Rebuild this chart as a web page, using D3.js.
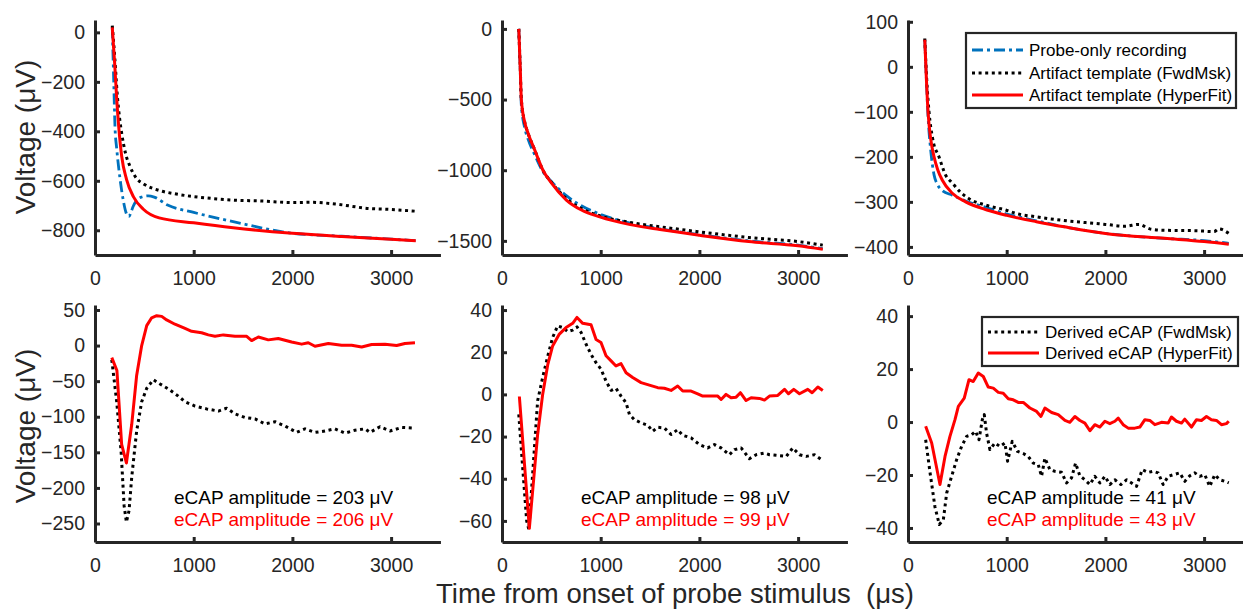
<!DOCTYPE html>
<html>
<head>
<meta charset="utf-8">
<script src="https://cdn.jsdelivr.net/npm/d3@7"></script>
<style>
  body { margin: 0; background: #fff; }
  text { font-family: "Liberation Sans", Arial, sans-serif; }
</style>
</head>
<body>
<svg id="chart" width="1243" height="610"></svg>
<script>
// ---- data (time in µs, voltage in µV) ----
const xTicks = [0, 1000, 2000, 3000];

// top row: artifact templates
const p1Probe = [[175,20],[190,-200],[203,-386],[220,-470],[253,-590],[287,-680],[314,-728],[330,-742],[345,-744],[362,-730],[385,-705],[420,-680],[470,-666],[540,-661],[600,-666],[735,-698],[1000,-728],[1400,-765],[2000,-812],[2500,-824],[3000,-836],[3250,-842]];
const p1Fwd = [[175,27],[200,-100],[225,-250],[250,-350],[270,-407],[310,-490],[355,-542],[420,-590],[490,-612],[660,-640],[800,-652],[1000,-664],[1200,-672],[1400,-678],[1700,-682],[2000,-688],[2200,-687],[2435,-694],[2775,-712],[3000,-716],[3250,-723]];
const p1Hyper = [[175,20],[200,-130],[220,-270],[240,-380],[270,-500],[320,-595],[390,-665],[490,-715],[650,-750],[1000,-770],[1400,-790],[2000,-812],[2500,-825],[3000,-836],[3250,-842]];

const p2Probe = [[170,0],[185,-300],[196,-540],[230,-700],[264,-780],[331,-890],[415,-1010],[500,-1080],[652,-1180],[800,-1250],[990,-1310],[1300,-1375],[1600,-1415],[2000,-1455],[2500,-1500],[3000,-1530],[3250,-1555]];
const p2Fwd = [[170,0],[185,-280],[196,-500],[230,-660],[264,-738],[331,-856],[415,-1000],[500,-1085],[652,-1200],[800,-1270],[990,-1322],[1300,-1370],[1600,-1400],[2000,-1436],[2500,-1476],[3000,-1505],[3250,-1530]];
const p2Hyper = [[170,0],[185,-280],[196,-500],[230,-660],[264,-738],[331,-856],[415,-1000],[500,-1090],[652,-1211],[800,-1280],[990,-1330],[1300,-1385],[1600,-1420],[2000,-1460],[2500,-1505],[3000,-1535],[3250,-1560]];

const p3Probe = [[170,60],[185,-20],[203,-110],[230,-185],[264,-240],[300,-262],[348,-275],[449,-285],[584,-298],[800,-313],[1000,-327],[1300,-342],[1600,-356],[2000,-370],[2600,-381],[3000,-386],[3250,-392]];
const p3Fwd = [[170,63],[190,-30],[213,-100],[250,-160],[314,-200],[380,-240],[449,-258],[530,-278],[618,-293],[800,-308],[990,-318],[1100,-326],[1294,-333],[1564,-341],[1800,-346],[2000,-350],[2200,-354],[2340,-350],[2450,-360],[2578,-363],[2915,-364],[3100,-366],[3150,-360],[3250,-370]];
const p3Hyper = [[170,60],[185,-20],[203,-100],[230,-160],[264,-200],[300,-228],[348,-252],[449,-281],[584,-300],[800,-318],[1000,-330],[1300,-344],[1600,-356],[2000,-370],[2600,-381],[3000,-388],[3250,-394]];

// bottom row: derived eCAPs
const p4Fwd = [[170,-20],[220,-79],[265,-150],[295,-225],[318,-248],[345,-232],[372,-185],[422,-120],[473,-79],[524,-60],[591,-48],[659,-54],[743,-61],[844,-71],[912,-79],[1013,-85],[1131,-89],[1250,-92],[1334,-88],[1418,-96],[1520,-101],[1621,-103],[1722,-110],[1824,-107],[1925,-113],[2043,-122],[2128,-117],[2229,-122],[2330,-120],[2431,-117],[2533,-123],[2634,-119],[2735,-117],[2786,-122],[2887,-114],[2989,-120],[3107,-115],[3242,-116]];
const p4Hyper = [[170,-17],[222,-35],[270,-139],[318,-165],[372,-111],[422,-42],[473,0],[524,28],[574,39],[625,42],[676,41],[726,36],[810,30],[912,24],[979,20],[1080,18],[1148,15],[1216,13],[1300,15],[1418,13],[1537,13],[1587,7],[1655,12],[1756,8],[1857,10],[1992,5],[2094,2],[2161,4],[2229,-1],[2364,3],[2499,0.5],[2600,0.5],[2702,-2],[2803,1.4],[2938,2],[3056,0],[3140,3],[3242,4]];

const p5Fwd = [[170,-9.5],[210,-35],[250,-60],[272,-64],[300,-45],[361,-3],[412,8],[463,18],[513,27],[564,32.5],[615,31.7],[666,29.8],[716,30.5],[760,32],[801,29.4],[852,23.8],[902,19],[953,15],[1003,12],[1054,6.3],[1105,1.9],[1155,2.9],[1206,-0.8],[1257,-4],[1291,-9.5],[1341,-12],[1409,-13.5],[1476,-14.6],[1527,-17.5],[1578,-15.6],[1645,-15.9],[1713,-19],[1780,-16.7],[1831,-19.4],[1916,-20.6],[2000,-23.8],[2084,-25.4],[2152,-23.8],[2220,-25.4],[2304,-28.6],[2355,-26.2],[2423,-25.4],[2507,-30.5],[2575,-28.6],[2659,-27.8],[2710,-28.6],[2778,-28.9],[2880,-29.4],[2946,-25.4],[3014,-28.6],[3081,-29.4],[3166,-28.6],[3250,-31.4]];
const p5Hyper = [[176,-1],[277,-63.5],[361,-19],[412,0],[463,14],[513,23],[581,28.6],[649,31.7],[716,33.7],[760,36.5],[818,33.7],[902,33],[953,26],[1003,24.6],[1054,18.3],[1105,15.9],[1155,13.5],[1206,14.6],[1257,10.3],[1324,8],[1409,5.6],[1493,4.4],[1578,3.2],[1645,2.9],[1713,1.9],[1780,4],[1831,1.6],[1916,1.6],[1983,0.3],[2034,-0.8],[2118,-0.8],[2186,-0.8],[2220,-2.4],[2270,0],[2321,-1.6],[2372,-1.3],[2415,0.8],[2473,-2.9],[2524,-1.6],[2608,-1.9],[2659,-2.7],[2710,-0.8],[2794,-0.5],[2862,2.4],[2902,0.3],[2956,2.4],[3014,0.3],[3098,2.4],[3142,0.8],[3200,3.5],[3250,1.9]];

const p6Fwd = [[179,-6.7],[223,-19],[273,-32],[317,-38.7],[358,-36.9],[392,-26.8],[442,-20.5],[493,-14.2],[543,-9.2],[594,-5.4],[645,-4.8],[685,-3.5],[719,-6.7],[753,0.9],[773,2.8],[796,-4.2],[830,-10.4],[881,-7.9],[931,-9.2],[982,-7.9],[1009,-14.8],[1056,-7.3],[1110,-11.1],[1168,-11.9],[1218,-13],[1269,-15.5],[1320,-16.1],[1353,-20.5],[1387,-13.6],[1438,-18],[1488,-18.6],[1556,-19],[1606,-23],[1657,-21.1],[1698,-15.5],[1741,-20.3],[1792,-21.8],[1843,-23.6],[1893,-20.5],[1944,-23],[1995,-20.5],[2045,-23.6],[2096,-21.8],[2157,-23.6],[2214,-21.8],[2265,-23],[2315,-24.3],[2373,-18],[2433,-19],[2484,-18.6],[2535,-19.2],[2585,-23.6],[2636,-20.5],[2686,-19.9],[2754,-19.2],[2804,-22.4],[2855,-20.3],[2906,-19.2],[2956,-20.5],[3007,-19.9],[3057,-24.3],[3108,-19.9],[3159,-21.8],[3209,-22.4],[3250,-23]];
const p6Hyper = [[179,-1.6],[240,-7.9],[324,-23.6],[375,-13],[425,-5.4],[476,0.9],[510,5.9],[570,9],[618,16],[661,15.3],[712,18.5],[763,17.2],[813,13.2],[864,12.8],[915,11.2],[965,10.9],[1016,8.8],[1066,8.4],[1117,7.4],[1168,7.4],[1235,5.3],[1303,4],[1347,2.1],[1387,5.3],[1455,3.6],[1522,2.8],[1590,0.6],[1640,-0.1],[1691,2.1],[1742,0.6],[1792,-0.4],[1843,-3.3],[1893,-1],[1944,-1.9],[1995,0.3],[2045,-0.6],[2096,0.3],[2130,1.5],[2180,-1],[2231,-2.3],[2298,-2.3],[2349,-1.9],[2400,0.9],[2450,0.6],[2501,-1],[2568,-0.1],[2636,-0.4],[2669,1.9],[2720,0.3],[2771,-0.4],[2804,1.1],[2872,-1.9],[2923,0.9],[2973,0.6],[3024,2.1],[3074,0.9],[3125,0.6],[3176,-1],[3226,-0.6],[3250,0.3]];

const p1Ticks = [0, -200, -400, -600, -800];
const p2Ticks = [0, -500, -1000, -1500];
const p3Ticks = [100, 0, -100, -200, -300, -400];
const p4Ticks = [50, 0, -50, -100, -150, -200, -250];
const p5Ticks = [40, 20, 0, -20, -40, -60];
const p6Ticks = [40, 20, 0, -20, -40];

const ampFwd = [203, 98, 41];
const ampHyper = [206, 99, 43];

const topLegend = ['Probe-only recording', 'Artifact template (FwdMsk)', 'Artifact template (HyperFit)'];
const bottomLegend = ['Derived eCAP (FwdMsk)', 'Derived eCAP (HyperFit)'];

// ---- styles ----
const axisColor = '#262626';
const styles = {
  probe: { stroke: '#0072BD', width: 2.8, dash: '11 4 3 4' },
  fwd:   { stroke: '#000000', width: 3,   dash: '3 3.6' },
  hyper: { stroke: '#FF0000', width: 3,   dash: null }
};

const svg = d3.select('#chart');
const axLeft = [95, 502, 908];
const pxPerUnit = 0.0987; // 1000 µs ≈ 98.7 px
const fmt = d3.format('d'); // gives a real minus sign, like matlab

const panels = [
  { col: 0, top: 20,  bottom: 255, yDomain: [-900, 50],    ticks: p1Ticks, smooth: true,  series: [['probe', p1Probe], ['fwd', p1Fwd], ['hyper', p1Hyper]] },
  { col: 1, top: 20,  bottom: 255, yDomain: [-1600, 63],   ticks: p2Ticks, smooth: true,  series: [['probe', p2Probe], ['fwd', p2Fwd], ['hyper', p2Hyper]] },
  { col: 2, top: 20,  bottom: 255, yDomain: [-418, 104],   ticks: p3Ticks, smooth: true,  series: [['probe', p3Probe], ['fwd', p3Fwd], ['hyper', p3Hyper]] },
  { col: 0, top: 305, bottom: 542, yDomain: [-276, 57],    ticks: p4Ticks, smooth: false, series: [['fwd', p4Fwd], ['hyper', p4Hyper]], amp: 0 },
  { col: 1, top: 305, bottom: 542, yDomain: [-70, 42.4],   ticks: p5Ticks, smooth: false, series: [['fwd', p5Fwd], ['hyper', p5Hyper]], amp: 1 },
  { col: 2, top: 305, bottom: 542, yDomain: [-45.3, 44.2], ticks: p6Ticks, smooth: false, series: [['fwd', p6Fwd], ['hyper', p6Hyper]], amp: 2 }
];

panels.forEach(p => {
  const x0 = axLeft[p.col];
  const x = d3.scaleLinear().domain([0, 3500]).range([x0, x0 + 3500 * pxPerUnit]);
  const y = d3.scaleLinear().domain(p.yDomain).range([p.bottom, p.top]);
  const g = svg.append('g');

  // data lines
  const line = d3.line()
    .x(d => x(d[0]))
    .y(d => y(d[1]))
    .curve(p.smooth ? d3.curveMonotoneX : d3.curveLinear);

  p.series.forEach(([key, data]) => {
    const s = styles[key];
    g.append('path')
      .datum(data)
      .attr('d', line)
      .attr('fill', 'none')
      .attr('stroke', s.stroke)
      .attr('stroke-width', s.width)
      .attr('stroke-dasharray', s.dash)
      .attr('stroke-linejoin', 'round');
  });

  // axes (ticks inward, like matlab)
  const xAxis = g.append('g')
    .attr('transform', `translate(0,${p.bottom})`)
    .call(d3.axisBottom(x).tickValues(xTicks).tickSizeInner(-5).tickSizeOuter(0).tickPadding(16).tickFormat(fmt));
  const yAxis = g.append('g')
    .attr('transform', `translate(${x0},0)`)
    .call(d3.axisLeft(y).tickValues(p.ticks).tickSizeInner(-5).tickSizeOuter(0).tickPadding(10).tickFormat(fmt));

  [xAxis, yAxis].forEach(a => {
    a.select('.domain').attr('stroke', axisColor).attr('stroke-width', 3);
    a.selectAll('.tick line').attr('stroke', axisColor).attr('stroke-width', 3);
    a.selectAll('.tick text').attr('fill', axisColor).style('font-size', '19.5px');
  });

  // amplitude annotations
  if (p.amp !== undefined) {
    g.append('text')
      .attr('x', x(800)).attr('y', p.bottom - 38)
      .attr('fill', '#000').style('font-size', '19px')
      .text(`eCAP amplitude = ${ampFwd[p.amp]} μV`);
    g.append('text')
      .attr('x', x(800)).attr('y', p.bottom - 16)
      .attr('fill', '#FF0000').style('font-size', '19px')
      .text(`eCAP amplitude = ${ampHyper[p.amp]} μV`);
  }
});

// legends
function drawLegend(left, top, w, h, items, keys, rowY) {
  const lg = svg.append('g');
  lg.append('rect')
    .attr('x', left).attr('y', top).attr('width', w).attr('height', h)
    .attr('fill', '#fff').attr('stroke', '#262626').attr('stroke-width', 2.2);
  items.forEach((label, i) => {
    const s = styles[keys[i]];
    const yy = top + rowY[i];
    lg.append('line')
      .attr('x1', left + 6).attr('x2', left + 57)
      .attr('y1', yy).attr('y2', yy)
      .attr('stroke', s.stroke).attr('stroke-width', s.width)
      .attr('stroke-dasharray', s.dash);
    lg.append('text')
      .attr('x', left + 63).attr('y', yy).attr('dy', '0.35em')
      .attr('fill', '#000').style('font-size', '17px')
      .text(label);
  });
}
drawLegend(966, 33, 270, 75, topLegend, ['probe', 'fwd', 'hyper'], [17, 40, 62]);
drawLegend(982, 317, 256, 49, bottomLegend, ['fwd', 'hyper'], [15, 36]);

// axis titles
[137, 426].forEach(cy => {
  svg.append('text')
    .attr('transform', `translate(35,${cy}) rotate(-90)`)
    .attr('text-anchor', 'middle').attr('fill', axisColor)
    .style('font-size', '28px')
    .text('Voltage (μV)');
});
svg.append('text')
  .attr('x', 675).attr('y', 603)
  .attr('text-anchor', 'middle').attr('fill', axisColor)
  .style('font-size', '27.5px')
  .style('white-space', 'pre')
  .text('Time from onset of probe stimulus  (μs)');
</script>
</body>
</html>
